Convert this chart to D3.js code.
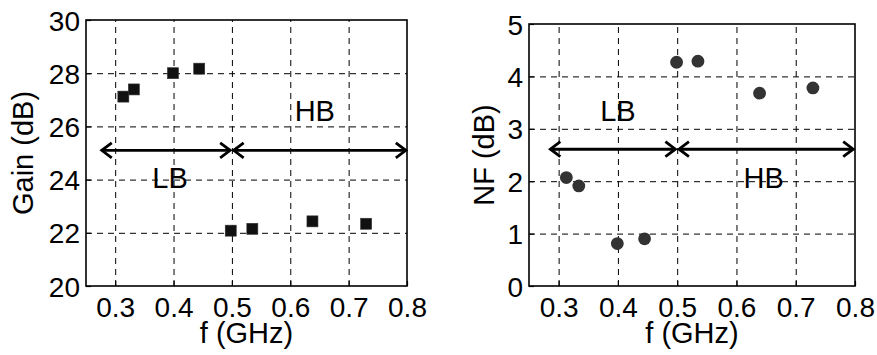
<!DOCTYPE html>
<html>
<head>
<meta charset="utf-8">
<script src="https://cdn.jsdelivr.net/npm/d3@7"></script>
<style>
  html, body { margin: 0; padding: 0; background: #fff; }
  svg { display: block; }
  text { font-family: "Liberation Sans", Arial, Helvetica, sans-serif; fill: #000; }
</style>
</head>
<body>
<svg id="chart" width="877" height="355"></svg>
<script>
// ---------- data ----------
const gainFreq = [0.314, 0.332, 0.399, 0.444, 0.498, 0.535, 0.638, 0.730];
const gainValues = [27.12, 27.39, 28.00, 28.17, 22.08, 22.15, 22.43, 22.34];
const nfFreq = [0.313, 0.334, 0.399, 0.445, 0.499, 0.535, 0.639, 0.729];
const nfValues = [2.07, 1.91, 0.81, 0.90, 4.27, 4.29, 3.68, 3.78];

const freqTicks = [0.3, 0.4, 0.5, 0.6, 0.7, 0.8];
const gainTicks = [20, 22, 24, 26, 28, 30];
const nfTicks = [0, 1, 2, 3, 4, 5];

// band annotations (data units)
const gainArrows = [[0.277, 0.497, 25.1], [0.503, 0.798, 25.1]];
const gainBandLabels = [["HB", 0.642, 26.21], ["LB", 0.394, 23.68]];
const nfArrows = [[0.286, 0.497, 2.61], [0.503, 0.797, 2.61]];
const nfBandLabels = [["LB", 0.400, 3.155], ["HB", 0.646, 1.865]];

const svg = d3.select("#chart");
const FONT = '"Liberation Sans", Arial, sans-serif';

function panel(opt) {
  const g = svg.append("g");
  const x = d3.scaleLinear().domain([0.25, 0.8]).range([opt.left, opt.right]);
  const y = d3.scaleLinear().domain(opt.yDomain).range([opt.bottom, opt.top]);
  const w = opt.right - opt.left, h = opt.bottom - opt.top;

  // grid
  g.append("g")
    .attr("transform", `translate(0,${opt.bottom})`)
    .call(d3.axisBottom(x).tickValues(freqTicks.filter(v => v < 0.8)).tickSize(-h).tickFormat(""))
    .call(s => s.select(".domain").remove())
    .call(s => s.selectAll("line").attr("stroke", "#000").attr("stroke-width", 1).attr("stroke-dasharray", "6,5"));
  g.append("g")
    .attr("transform", `translate(${opt.left},0)`)
    .call(d3.axisLeft(y).tickValues(opt.yTicks.slice(1, -1)).tickSize(-w).tickFormat(""))
    .call(s => s.select(".domain").remove())
    .call(s => s.selectAll("line").attr("stroke", "#000").attr("stroke-width", 1).attr("stroke-dasharray", "6,5"));

  // axes (inward ticks)
  const xa = g.append("g")
    .attr("transform", `translate(0,${opt.bottom})`)
    .call(d3.axisBottom(x).tickValues(freqTicks).tickSize(-5).tickFormat(d3.format(".1f")));
  xa.select(".domain").remove();
  xa.selectAll("line").attr("stroke", "#000").attr("stroke-width", 1.2);
  xa.selectAll("text").attr("y", 31).attr("dy", null)
    .style("font-size", "28px").style("font-family", FONT).attr("fill", "#000");

  const ya = g.append("g")
    .attr("transform", `translate(${opt.left},0)`)
    .call(d3.axisLeft(y).tickValues(opt.yTicks).tickSize(-5).tickPadding(6).tickFormat(d3.format("d")));
  ya.select(".domain").remove();
  ya.selectAll("line").attr("stroke", "#000").attr("stroke-width", 1.2);
  ya.selectAll("text").attr("dy", "0.36em")
    .style("font-size", "28px").style("font-family", FONT).attr("fill", "#000");

  // frame
  g.append("rect")
    .attr("x", opt.left).attr("y", opt.top).attr("width", w).attr("height", h)
    .attr("fill", "none").attr("stroke", "#000").attr("stroke-width", 1.6);

  // titles
  g.append("text")
    .attr("x", (opt.left + opt.right) / 2).attr("y", 343)
    .attr("text-anchor", "middle").style("font-size", "29px").text("f (GHz)");
  g.append("text")
    .attr("transform", `translate(${opt.titleX},${(opt.top + opt.bottom) / 2}) rotate(-90)`)
    .attr("text-anchor", "middle").style("font-size", "29px").text(opt.yTitle);

  // arrows
  opt.arrows.forEach(([a, b, v]) => {
    const x1 = x(a), x2 = x(b), yy = y(v);
    const hl = 10, hh = 7.5;
    g.append("line").attr("x1", x1).attr("x2", x2).attr("y1", yy).attr("y2", yy)
      .attr("stroke", "#000").attr("stroke-width", 2.8);
    g.append("path").attr("d", `M${x1 + hl},${yy - hh}L${x1},${yy}L${x1 + hl},${yy + hh}`)
      .attr("fill", "none").attr("stroke", "#000").attr("stroke-width", 2.8);
    g.append("path").attr("d", `M${x2 - hl},${yy - hh}L${x2},${yy}L${x2 - hl},${yy + hh}`)
      .attr("fill", "none").attr("stroke", "#000").attr("stroke-width", 2.8);
  });

  // band labels
  opt.labels.forEach(([t, a, v]) => {
    g.append("text").attr("x", x(a)).attr("y", y(v))
      .attr("text-anchor", "middle").style("font-size", "29px").text(t);
  });

  return { g, x, y };
}

// Left: Gain
const L = panel({
  left: 86, right: 407, top: 20, bottom: 286,
  yDomain: [20, 30], yTicks: gainTicks, yTitle: "Gain (dB)", titleX: 33,
  arrows: gainArrows, labels: gainBandLabels
});
const sq = 11;
L.g.append("g").selectAll("rect").data(gainFreq.map((f, i) => [f, gainValues[i]])).join("rect")
  .attr("x", d => L.x(d[0]) - sq / 2).attr("y", d => L.y(d[1]) - sq / 2)
  .attr("width", sq).attr("height", sq)
  .attr("fill", "#111").attr("stroke", "#333").attr("stroke-width", 0.6);

// Right: NF
const R = panel({
  left: 529, right: 855, top: 24, bottom: 286,
  yDomain: [0, 5], yTicks: nfTicks, yTitle: "NF (dB)", titleX: 494,
  arrows: nfArrows, labels: nfBandLabels
});
R.g.append("g").selectAll("circle").data(nfFreq.map((f, i) => [f, nfValues[i]])).join("circle")
  .attr("cx", d => R.x(d[0])).attr("cy", d => R.y(d[1])).attr("r", 6.4)
  .attr("fill", "#333");
</script>
</body>
</html>
